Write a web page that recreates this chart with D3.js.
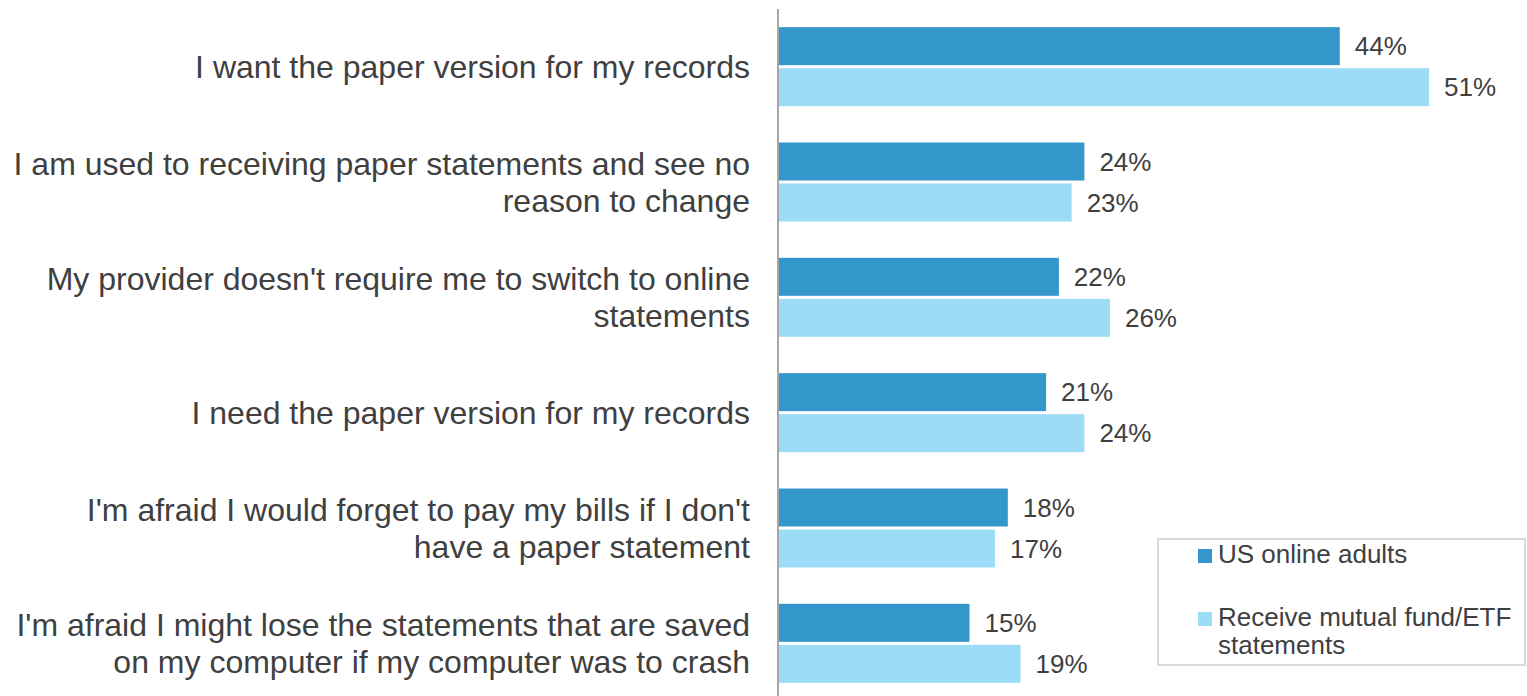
<!DOCTYPE html>
<html>
<head>
<meta charset="utf-8">
<script src="https://cdn.jsdelivr.net/npm/d3@7"></script>
<style>
  html, body { margin: 0; padding: 0; background: #ffffff; }
  svg { display: block; font-family: "Liberation Sans", Arial, sans-serif; }
</style>
</head>
<body>
<svg id="chart" width="1527" height="696"></svg>
<script>
// Reasons for preferring paper statements (line breaks marked with \n)
const categories = [
  "I want the paper version for my records",
  "I am used to receiving paper statements and see no\nreason to change",
  "My provider doesn't require me to switch to online\nstatements",
  "I need the paper version for my records",
  "I'm afraid I would forget to pay my bills if I don't\nhave a paper statement",
  "I'm afraid I might lose the statements that are saved\non my computer if my computer was to crash"
];
const seriesNames = ["US online adults", "Receive mutual fund/ETF statements"];
const usOnlineAdults = [44, 24, 22, 21, 18, 15];
const mutualFundReceivers = [51, 23, 26, 24, 17, 19];
const seriesColors = ["#3397cb", "#9ddcf7"];

const svg = d3.select("#chart");
const textColor = "#404040";

const x = d3.scaleLinear().domain([0, 60]).range([778, 1544]);
const y = d3.scaleBand().domain(categories).range([9, 701])
  .paddingInner(0.315).paddingOuter(0.1575);
const ySub = d3.scaleBand().domain([0, 1]).range([0, y.bandwidth()]).paddingInner(0.0732);

const rows = categories.map((c, i) => ({
  category: c,
  values: [usOnlineAdults[i], mutualFundReceivers[i]]
}));

// Bars and value labels
const groups = svg.append("g").selectAll("g").data(rows).join("g")
  .attr("transform", d => `translate(0,${y(d.category)})`);

groups.selectAll("rect").data(d => d.values.map((v, k) => ({ v, k }))).join("rect")
  .attr("x", x(0))
  .attr("y", d => ySub(d.k))
  .attr("width", d => x(d.v) - x(0))
  .attr("height", ySub.bandwidth())
  .attr("fill", d => seriesColors[d.k]);

groups.selectAll("text.value").data(d => d.values.map((v, k) => ({ v, k }))).join("text")
  .attr("class", "value")
  .attr("x", d => x(d.v) + 15)
  .attr("y", d => ySub(d.k) + ySub.bandwidth() / 2)
  .attr("dy", "0.35em")
  .attr("font-size", 26)
  .attr("fill", textColor)
  .text(d => d.v + "%");

// Category labels, right aligned left of the axis
const catLabels = svg.append("g").selectAll("text").data(categories).join("text")
  .attr("text-anchor", "end")
  .attr("font-size", 32)
  .attr("fill", textColor);
const lineGap = 37;
catLabels.each(function (c) {
  const lines = c.split("\n");
  const cy = y(c) + y.bandwidth() / 2;
  const start = cy - (lines.length - 1) * lineGap / 2;
  d3.select(this).selectAll("tspan").data(lines).join("tspan")
    .attr("x", 750)
    .attr("y", (l, i) => start + i * lineGap)
    .attr("dy", "0.35em")
    .text(l => l);
});

// Vertical category axis line
svg.append("line")
  .attr("x1", x(0)).attr("x2", x(0))
  .attr("y1", 9).attr("y2", 696)
  .attr("stroke", "#a6a6a6").attr("stroke-width", 2);

// Legend
const legend = svg.append("g");
legend.append("rect")
  .attr("x", 1158).attr("y", 539).attr("width", 367).attr("height", 126)
  .attr("fill", "#ffffff").attr("stroke", "#d9d9d9").attr("stroke-width", 2);
const legendItems = [
  { lines: ["US online adults"], color: seriesColors[0], top: 549 },
  { lines: ["Receive mutual fund/ETF", "statements"], color: seriesColors[1], top: 612 }
];
legendItems.forEach((it, k) => {
  legend.append("rect")
    .attr("x", 1198).attr("y", it.top).attr("width", 14).attr("height", 14)
    .attr("fill", it.color);
  legend.append("text")
    .attr("font-size", 26).attr("fill", textColor)
    .selectAll("tspan").data(it.lines).join("tspan")
    .attr("x", 1218)
    .attr("y", (l, i) => it.top + 14 + i * 28)
    .text(l => l);
});
</script>
</body>
</html>
